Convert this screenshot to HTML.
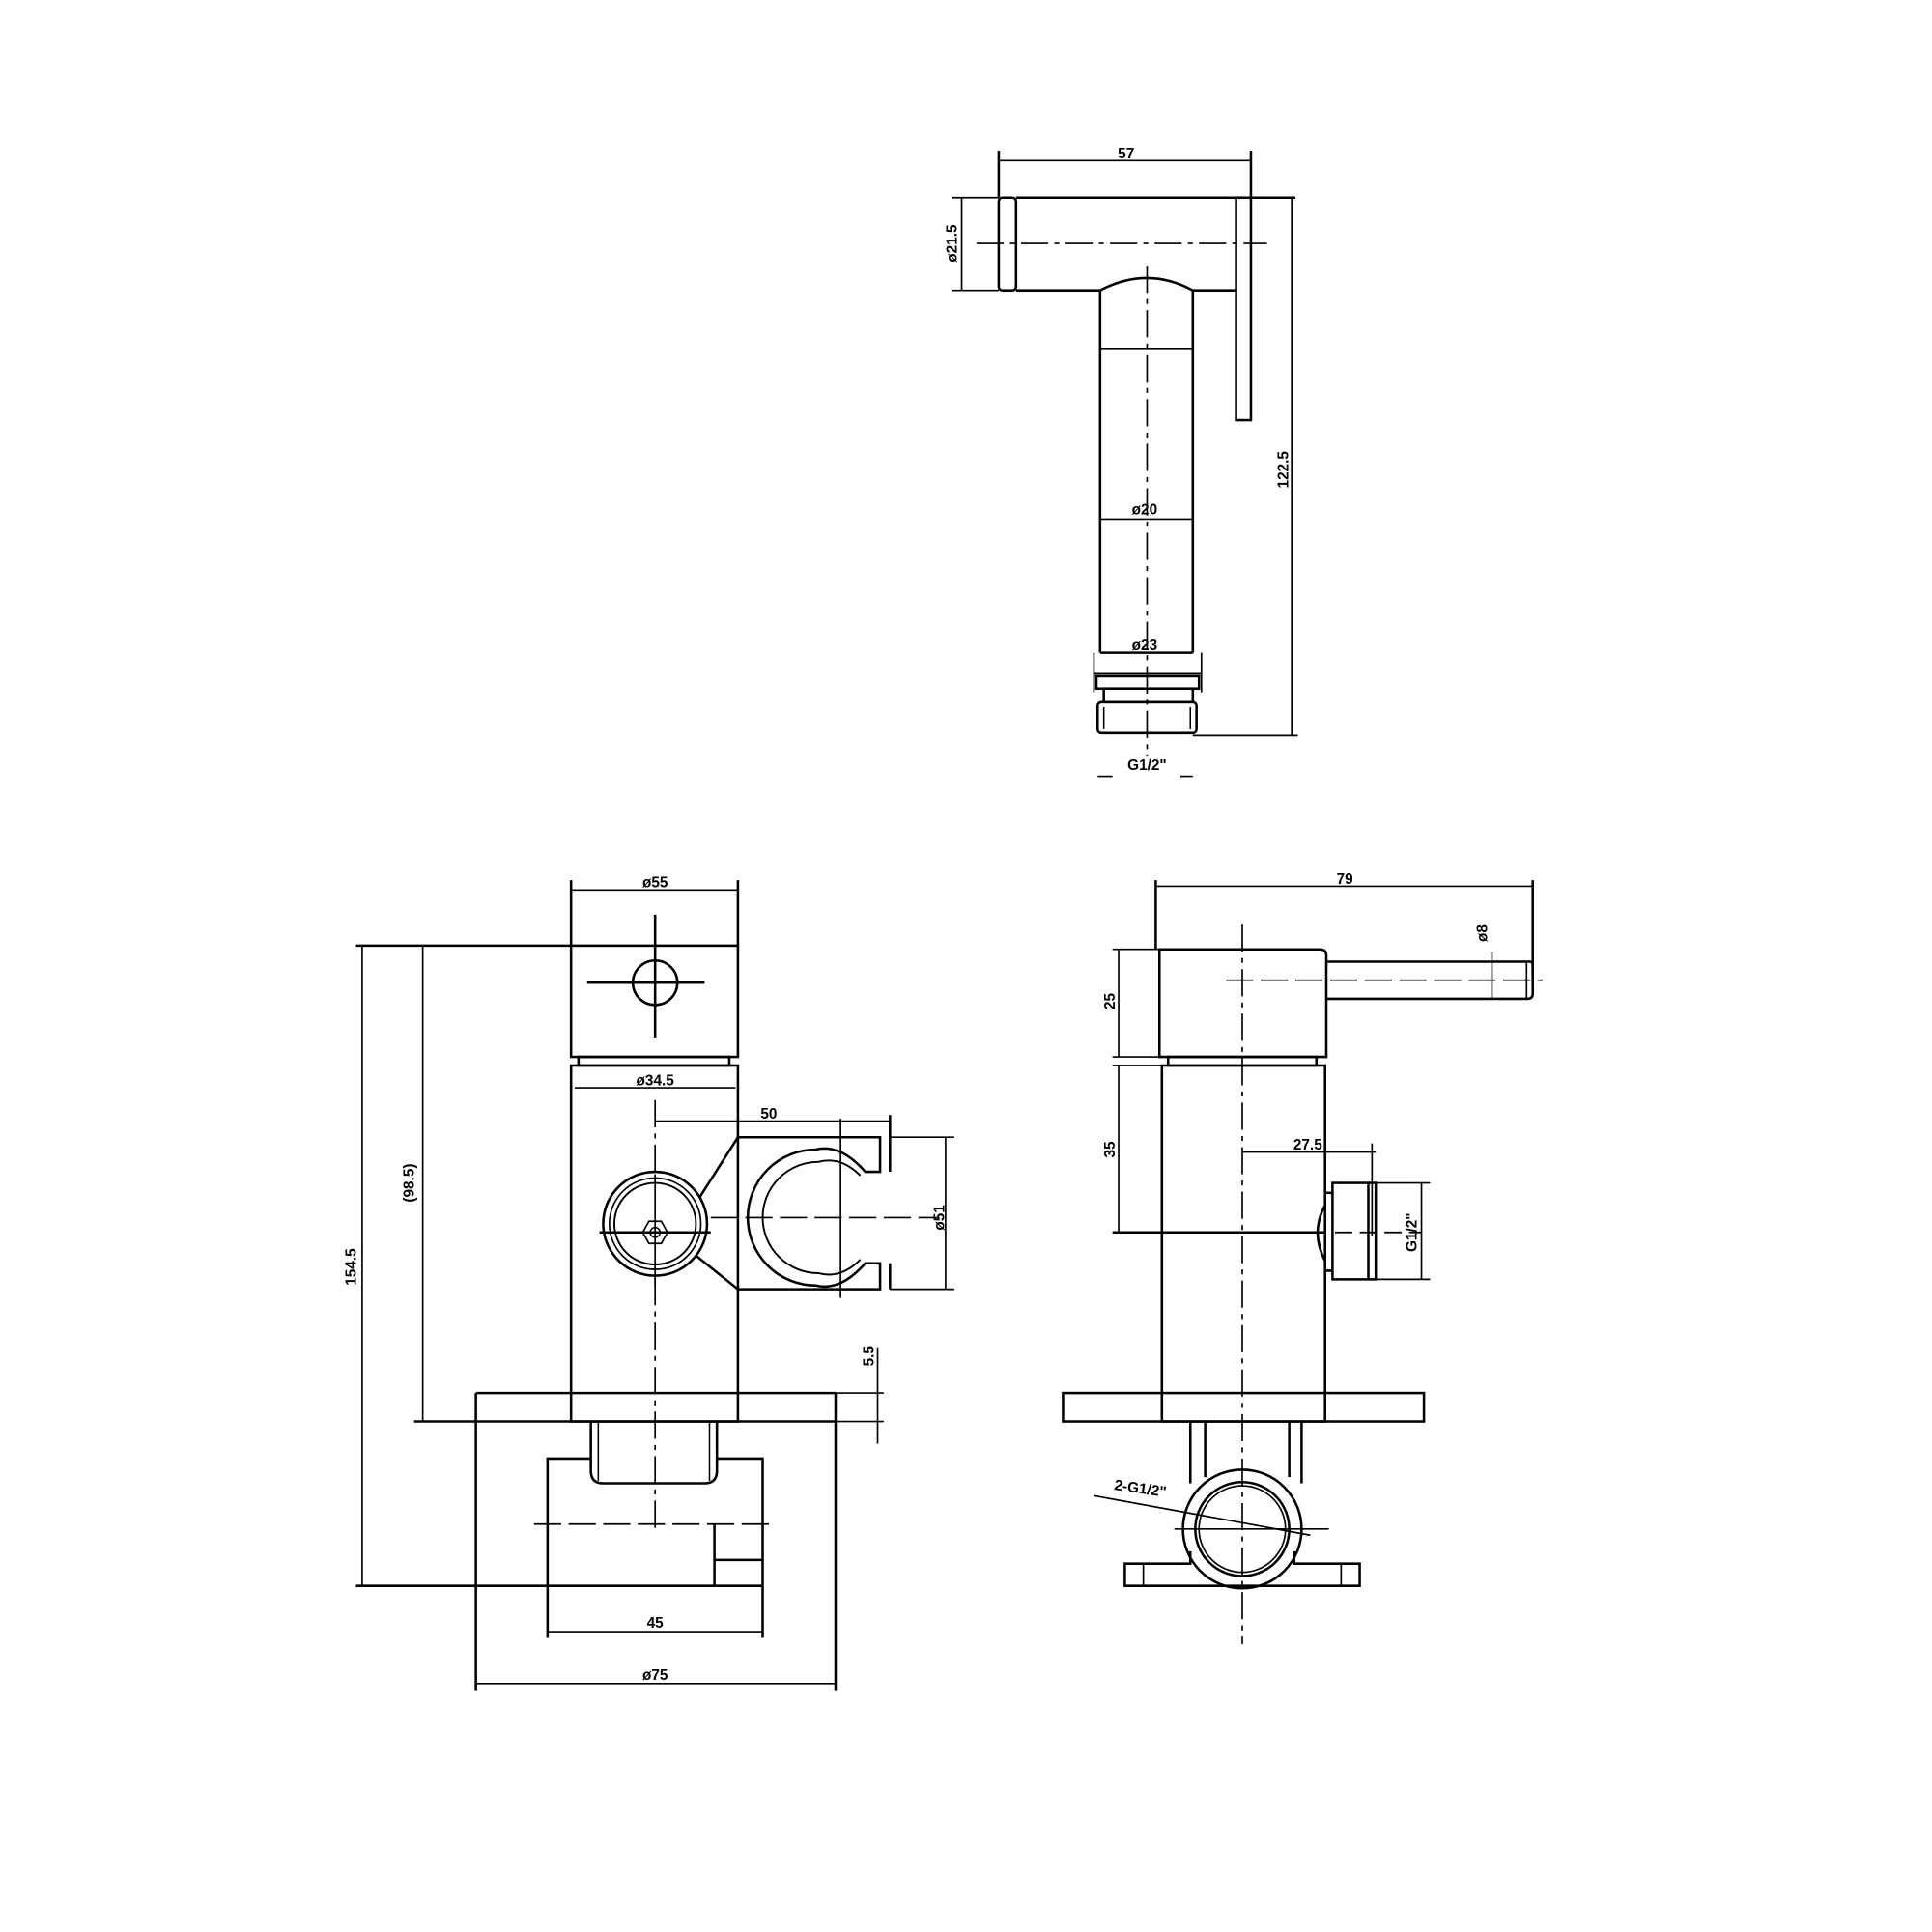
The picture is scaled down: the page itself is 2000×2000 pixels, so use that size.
<!DOCTYPE html>
<html><head><meta charset="utf-8"><style>html,body{margin:0;padding:0;background:#fff}svg{display:block}</style></head>
<body>
<svg width="2000" height="2000" viewBox="0 0 1563 1563" xmlns="http://www.w3.org/2000/svg">
<g fill="none" stroke="#000" stroke-width="2">
<!-- TOP VIEW -->
<line x1="808" y1="130" x2="1012" y2="130" stroke-width="1.3"/>
<line x1="808" y1="122" x2="808" y2="160"/>
<line x1="1012" y1="122" x2="1012" y2="160"/>
<rect x="808" y="160" width="14" height="75" rx="3"/>
<line x1="822" y1="160" x2="1048" y2="160"/>
<line x1="822" y1="235" x2="890" y2="235"/>
<line x1="965" y1="235" x2="1000" y2="235"/>
<line x1="770" y1="160" x2="808" y2="160" stroke-width="1.3"/>
<line x1="770" y1="235" x2="808" y2="235" stroke-width="1.3"/>
<line x1="778" y1="160" x2="778" y2="235" stroke-width="1.3"/>
<rect x="1000" y="160" width="12" height="180"/>
<line x1="790" y1="197" x2="1025" y2="197" stroke-width="1.3" stroke-dasharray="22,5,4,5"/>
<path d="M890,235 Q928,215 965,235 L965,528 M890,235 L890,528"/>
<line x1="890" y1="282" x2="965" y2="282" stroke-width="1.3"/>
<line x1="890" y1="420" x2="965" y2="420" stroke-width="1.3"/>
<line x1="885" y1="528" x2="885" y2="560" stroke-width="1.3"/>
<line x1="972" y1="528" x2="972" y2="560" stroke-width="1.3"/>
<line x1="885" y1="545" x2="972" y2="545" stroke-width="1.3"/>
<line x1="890" y1="528" x2="965" y2="528"/>
<rect x="887" y="547" width="83" height="10"/>
<rect x="893" y="557" width="72" height="11"/>
<rect x="888" y="568" width="80" height="25" rx="3"/>
<line x1="893" y1="572" x2="893" y2="590" stroke-width="1.2"/>
<line x1="963" y1="572" x2="963" y2="590" stroke-width="1.2"/>
<line x1="928" y1="215" x2="928" y2="612" stroke-width="1.3" stroke-dasharray="22,5,4,5"/>
<line x1="1045" y1="160" x2="1045" y2="595" stroke-width="1.3"/>
<line x1="965" y1="595" x2="1050" y2="595" stroke-width="1.3"/>
<line x1="888" y1="628" x2="900" y2="628" stroke-width="1.3"/>
<line x1="955" y1="628" x2="965" y2="628" stroke-width="1.3"/>

<!-- BOTTOM LEFT VIEW -->
<line x1="462" y1="720" x2="597" y2="720" stroke-width="1.3"/>
<line x1="462" y1="712" x2="462" y2="765"/>
<line x1="597" y1="712" x2="597" y2="765"/>
<rect x="462" y="765" width="135" height="90"/>
<line x1="288" y1="765" x2="462" y2="765"/>
<circle cx="530" cy="795" r="18"/>
<line x1="475" y1="795" x2="570" y2="795"/>
<line x1="530" y1="740" x2="530" y2="840"/>
<rect x="468" y="855" width="122" height="7"/>
<rect x="462" y="862" width="135" height="288"/>
<line x1="465" y1="880" x2="595" y2="880" stroke-width="1.3"/>
<line x1="530" y1="890" x2="530" y2="1240" stroke-width="1.3" stroke-dasharray="22,5,4,5"/>
<line x1="530" y1="907" x2="720" y2="907" stroke-width="1.3"/>
<line x1="720" y1="902" x2="720" y2="948"/>
<path d="M597,920 L712,920 L712,948 L700,948 Q680,925 660,930 A55,55 0 0 0 660,1040 Q680,1045 700,1022 L712,1022 L712,1043 L597,1043 L562,1015 M597,920 L562,975" stroke-width="2"/>
<path d="M696,951 Q680,935 662,940 A45,45 0 0 0 662,1030 Q680,1035 696,1019" stroke-width="1.5"/>
<line x1="720" y1="1022" x2="720" y2="1043"/>
<line x1="720" y1="920" x2="772" y2="920" stroke-width="1.3"/>
<line x1="720" y1="1043" x2="772" y2="1043" stroke-width="1.3"/>
<line x1="765" y1="920" x2="765" y2="1043" stroke-width="1.3"/>
<line x1="680" y1="905" x2="680" y2="1050" stroke-width="1.3"/>
<circle cx="530" cy="990" r="42" fill="#fff"/>
<circle cx="530" cy="990" r="37" stroke-width="1.3"/>
<circle cx="530" cy="990" r="33" stroke-width="1.5"/>
<polygon points="520,997 525,988 535,988 540,997 535,1006 525,1006" stroke-width="1.3"/>
<circle cx="530" cy="997" r="4" stroke-width="1.2"/>
<line x1="485" y1="997" x2="575" y2="997"/>
<line x1="530" y1="950" x2="530" y2="1040" stroke-width="1.3"/>
<line x1="575" y1="985" x2="760" y2="985" stroke-width="1.3" stroke-dasharray="22,6"/>
<line x1="385" y1="1127" x2="676" y2="1127"/>
<line x1="385" y1="1127" x2="385" y2="1368"/>
<line x1="676" y1="1127" x2="676" y2="1368"/>
<line x1="335" y1="1150" x2="676" y2="1150"/>
<line x1="676" y1="1127" x2="715" y2="1127" stroke-width="1.3"/>
<line x1="676" y1="1150" x2="715" y2="1150" stroke-width="1.3"/>
<line x1="710" y1="1090" x2="710" y2="1168" stroke-width="1.3"/>
<path d="M478,1150 L478,1190 Q478,1200 488,1200 L570,1200 Q580,1200 580,1190 L580,1150"/>
<line x1="484" y1="1150" x2="484" y2="1198" stroke-width="1.2"/>
<line x1="574" y1="1150" x2="574" y2="1198" stroke-width="1.2"/>
<path d="M478,1180 L443,1180 L443,1325 M580,1180 L617,1180 L617,1325"/>
<line x1="432" y1="1233" x2="628" y2="1233" stroke-width="1.3" stroke-dasharray="22,6"/>
<path d="M578,1233 L578,1283 M578,1262 L617,1262"/>
<line x1="288" y1="1283" x2="617" y2="1283"/>
<line x1="293" y1="765" x2="293" y2="1283" stroke-width="1.3"/>
<line x1="342" y1="765" x2="342" y2="1150" stroke-width="1.3"/>
<line x1="443" y1="1320" x2="617" y2="1320" stroke-width="1.3"/>
<line x1="385" y1="1362" x2="676" y2="1362" stroke-width="1.3"/>

<!-- BOTTOM RIGHT VIEW -->
<line x1="935" y1="717" x2="1240" y2="717" stroke-width="1.3"/>
<line x1="935" y1="712" x2="935" y2="768"/>
<line x1="1240" y1="712" x2="1240" y2="790"/>
<path d="M938,768 L1068,768 Q1073,768 1073,773 L1073,855 L938,855 Z"/>
<line x1="900" y1="768" x2="938" y2="768" stroke-width="1.3"/>
<line x1="900" y1="855" x2="938" y2="855" stroke-width="1.3"/>
<line x1="905" y1="768" x2="905" y2="855" stroke-width="1.3"/>
<path d="M1073,778 L1238,778 Q1240,778 1240,782 L1240,804 Q1240,808 1236,808 L1073,808"/>
<line x1="1235" y1="778" x2="1235" y2="808" stroke-width="1.3"/>
<line x1="992" y1="793" x2="1248" y2="793" stroke-width="1.3" stroke-dasharray="22,6"/>
<line x1="1207" y1="770" x2="1207" y2="808" stroke-width="1.3"/>
<rect x="945" y="855" width="120" height="7"/>
<rect x="940" y="862" width="132" height="288"/>
<line x1="905" y1="862" x2="905" y2="997" stroke-width="1.3"/>
<line x1="900" y1="862" x2="940" y2="862" stroke-width="1.3"/>
<line x1="900" y1="997" x2="1072" y2="997"/>
<line x1="1005" y1="748" x2="1005" y2="1330" stroke-width="1.3" stroke-dasharray="22,5,4,5"/>
<line x1="1005" y1="932" x2="1113" y2="932" stroke-width="1.3"/>
<line x1="1110" y1="925" x2="1110" y2="1000" stroke-width="1.3"/>
<path d="M1072,975 Q1060,997 1072,1020"/>
<rect x="1078" y="957" width="35" height="78"/>
<line x1="1107" y1="957" x2="1107" y2="1035"/>
<line x1="1078" y1="965" x2="1072" y2="965"/>
<line x1="1078" y1="1028" x2="1072" y2="1028"/>
<line x1="1080" y1="997" x2="1150" y2="997" stroke-width="1.3" stroke-dasharray="14,6"/>
<line x1="1113" y1="957" x2="1157" y2="957" stroke-width="1.3"/>
<line x1="1113" y1="1035" x2="1157" y2="1035" stroke-width="1.3"/>
<line x1="1150" y1="957" x2="1150" y2="1035" stroke-width="1.3"/>
<rect x="860" y="1127" width="292" height="23"/>
<path d="M963,1150 L963,1200 M975,1150 L975,1195 M1043,1150 L1043,1195 M1053,1150 L1053,1200"/>
<circle cx="1005" cy="1237" r="48"/>
<circle cx="1005" cy="1237" r="38"/>
<circle cx="1005" cy="1237" r="35" stroke-width="1.3"/>
<path d="M963,1255 L963,1265 L910,1265 L910,1283 L1100,1283 L1100,1265 L1047,1265 L1047,1255"/>
<line x1="925" y1="1265" x2="925" y2="1283" stroke-width="1.3"/>
<line x1="1085" y1="1265" x2="1085" y2="1283" stroke-width="1.3"/>
<line x1="950" y1="1237" x2="1075" y2="1237" stroke-width="1.3"/>
<line x1="885" y1="1210" x2="1060" y2="1242" stroke-width="1.3"/>
</g>
<g font-family="Liberation Sans, sans-serif" font-weight="bold" font-size="12" fill="#000" text-anchor="middle">
<text x="911" y="128">57</text>
<text transform="translate(774,197) rotate(-90)">ø21.5</text>
<text x="926" y="416">ø20</text>
<text x="926" y="526">ø23</text>
<text transform="translate(1042,380) rotate(-90)">122.5</text>
<text x="928" y="623">G1/2"</text>
<text x="530" y="718">ø55</text>
<text x="530" y="878">ø34.5</text>
<text x="622" y="905">50</text>
<text transform="translate(764,985) rotate(-90)">ø51</text>
<text transform="translate(707,1097) rotate(-90)">5.5</text>
<text transform="translate(288,1025) rotate(-90)">154.5</text>
<text transform="translate(335,957) rotate(-90)">(98.5)</text>
<text x="530" y="1317">45</text>
<text x="530" y="1359">ø75</text>
<text x="1088" y="715">79</text>
<text transform="translate(1203,755) rotate(-90)">ø8</text>
<text transform="translate(902,810) rotate(-90)">25</text>
<text transform="translate(902,930) rotate(-90)">35</text>
<text x="1058" y="930">27.5</text>
<text transform="translate(1146,997) rotate(-90)">G1/2"</text>
<text transform="translate(922,1208) rotate(8)">2-G1/2"</text>
</g>
</svg>
</body></html>
